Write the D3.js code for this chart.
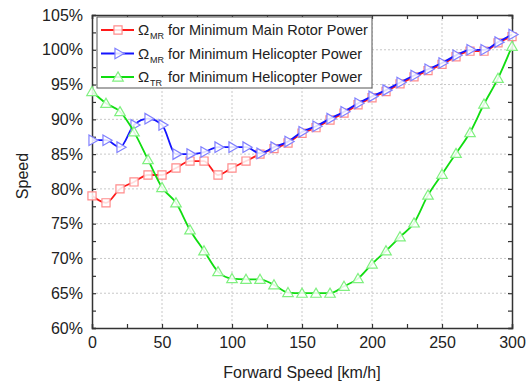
<!DOCTYPE html>
<html>
<head>
<meta charset="utf-8">
<script src="https://cdn.jsdelivr.net/npm/d3@7"></script>
<style>
  body { margin: 0; background: #fff; }
  svg text { font-family: Arial, "Liberation Sans", sans-serif; fill: #222; }
</style>
</head>
<body>
<div id="chart"></div>
<script>
'use strict';

// forward speed [km/h]
var speeds = [0, 10, 20, 30, 40, 50, 60, 70, 80, 90, 100, 110, 120, 130, 140, 150,
  160, 170, 180, 190, 200, 210, 220, 230, 240, 250, 260, 270, 280, 290, 300];

// rotor speed in %
var mrMinMainRotor = [79, 78, 80, 81, 82, 82, 83, 84, 84, 82, 83, 84, 85, 85.8, 86.6, 88,
  88.8, 89.9, 90.9, 92.1, 93.1, 94, 95.1, 96.1, 97, 97.9, 99, 99.8, 99.8, 101, 101.9];
var mrMinHeli = [87, 87, 86, 89.2, 90.1, 89.2, 85, 85, 85.3, 86, 86, 86, 85.1, 86, 86.8, 88.2,
  89, 90.1, 91.1, 92.3, 93.3, 94.2, 95.3, 96.3, 97.2, 98.1, 99.2, 100, 100, 101.1, 102.2];
var trMinHeli = [94, 92.3, 91.1, 88.2, 84.2, 80.2, 78, 74.1, 71.1, 68.1, 67.1, 67, 67, 66.2, 65.1, 65,
  65, 65, 66, 67.1, 69.2, 71.1, 73.1, 75.1, 79.1, 82.1, 85.1, 88.1, 92.2, 95.9, 100.5];

var xTicks = [0, 50, 100, 150, 200, 250, 300];
var yTicks = [60, 65, 70, 75, 80, 85, 90, 95, 100, 105];

var series = [
  { sub: 'MR', label: 'for Minimum Main Rotor Power', values: mrMinMainRotor,
    line: '#ff1a1a', mark: '#ff8c8c', symbol: 'square' },
  { sub: 'MR', label: 'for Minimum Helicopter Power', values: mrMinHeli,
    line: '#1414ff', mark: '#8080ff', symbol: 'right' },
  { sub: 'TR', label: 'for Minimum Helicopter Power', values: trMinHeli,
    line: '#10dd10', mark: '#80f080', symbol: 'up' }
];

var margin = {top: 15, right: 20, bottom: 57, left: 92};
var width = 532 - margin.left - margin.right;
var height = 385 - margin.top - margin.bottom;

var svg = d3.select('#chart').append('svg')
  .attr('width', 532)
  .attr('height', 385);

var g = svg.append('g')
  .attr('transform', 'translate(' + margin.left + ',' + margin.top + ')');

var x = d3.scaleLinear().domain([0, 300]).range([0, width]);
var y = d3.scaleLinear().domain([60, 105]).range([height, 0]);

// grid
g.append('g').selectAll('line')
  .data(xTicks.slice(1, -1))
  .enter().append('line')
  .attr('x1', function(d) { return x(d); })
  .attr('x2', function(d) { return x(d); })
  .attr('y1', 0).attr('y2', height)
  .attr('stroke', '#c8c8c8').attr('stroke-dasharray', '2,2');

g.append('g').selectAll('line')
  .data(yTicks.slice(1, -1))
  .enter().append('line')
  .attr('y1', function(d) { return y(d); })
  .attr('y2', function(d) { return y(d); })
  .attr('x1', 0).attr('x2', width)
  .attr('stroke', '#c8c8c8').attr('stroke-dasharray', '2,2');

// axes, ticks pointing inward
var minorX = d3.range(0, 301, 25);
var minorY = d3.range(60, 105.1, 2.5);

var xAxis = g.append('g')
  .attr('transform', 'translate(0,' + height + ')')
  .call(d3.axisBottom(x).tickValues(minorX).tickSize(-4).tickPadding(9)
    .tickFormat(function(d) { return d % 50 === 0 ? d : ''; }));
var xTop = g.append('g')
  .call(d3.axisTop(x).tickValues(minorX).tickSize(-4).tickFormat(''));
var yAxis = g.append('g')
  .call(d3.axisLeft(y).tickValues(minorY).tickSize(-4).tickPadding(9)
    .tickFormat(function(d) { return d % 5 === 0 ? d + '%' : ''; }));
var yRight = g.append('g')
  .attr('transform', 'translate(' + width + ',0)')
  .call(d3.axisRight(y).tickValues(minorY).tickSize(-4).tickFormat(''));

[xAxis, xTop, yAxis, yRight].forEach(function(a) {
  a.select('.domain').attr('stroke', '#333').attr('stroke-width', 1.5);
  a.selectAll('.tick line').attr('stroke', '#333').attr('stroke-width', 1.2);
  a.selectAll('.tick text').style('font-size', '16px').attr('fill', '#222')
    .style('font-family', 'Arial, "Liberation Sans", sans-serif');
});

// axis titles
svg.append('text')
  .attr('x', margin.left + width / 2)
  .attr('y', 378)
  .attr('text-anchor', 'middle')
  .style('font-size', '16px')
  .text('Forward Speed [km/h]');

svg.append('text')
  .attr('transform', 'translate(28,176) rotate(-90)')
  .attr('text-anchor', 'middle')
  .style('font-size', '16px')
  .text('Speed');

// markers
var symSquare = d3.symbol().type(d3.symbolSquare).size(66);
var symTri = d3.symbol().type(d3.symbolTriangle).size(48);

function drawMarker(sel, s) {
  var p = sel.append('path')
    .attr('fill', 'rgba(255,255,255,0.85)')
    .attr('stroke', s.mark)
    .attr('stroke-width', 1.2);
  if (s.symbol === 'square') {
    p.attr('d', symSquare());
  } else if (s.symbol === 'right') {
    p.attr('d', symTri()).attr('transform', 'rotate(90)');
  } else {
    p.attr('d', symTri()).attr('transform', 'translate(0,1)');
  }
}

var line = d3.line()
  .x(function(d) { return x(d[0]); })
  .y(function(d) { return y(d[1]); })
  .curve(d3.curveMonotoneX);

series.forEach(function(s) {
  var pts = speeds.map(function(v, i) { return [v, s.values[i]]; });
  g.append('path')
    .datum(pts)
    .attr('fill', 'none')
    .attr('stroke', s.line)
    .attr('stroke-width', 1.8)
    .attr('d', line);
  g.append('g').selectAll('g')
    .data(pts)
    .enter().append('g')
    .attr('transform', function(d) { return 'translate(' + x(d[0]) + ',' + y(d[1]) + ')'; })
    .each(function() { drawMarker(d3.select(this), s); });
});

// legend
var legend = svg.append('g').attr('transform', 'translate(97,17)');
legend.append('rect')
  .attr('width', 275).attr('height', 71)
  .attr('fill', '#fff').attr('stroke', '#555').attr('stroke-width', 1);

series.forEach(function(s, i) {
  var ly = 13 + i * 23.5;
  var row = legend.append('g').attr('transform', 'translate(0,' + ly + ')');
  row.append('line')
    .attr('x1', 4).attr('x2', 37)
    .attr('stroke', s.line).attr('stroke-width', 1.8);
  var m = row.append('g').attr('transform', 'translate(21,0)');
  drawMarker(m, s);
  row.append('text').attr('x', 41).attr('y', 5).style('font-size', '15px').text('Ω');
  row.append('text').attr('x', 53).attr('y', 9).style('font-size', '9px').text(s.sub);
  row.append('text').attr('x', 71).attr('y', 5).style('font-size', '14.5px').text(s.label);
});
</script>
</body>
</html>
